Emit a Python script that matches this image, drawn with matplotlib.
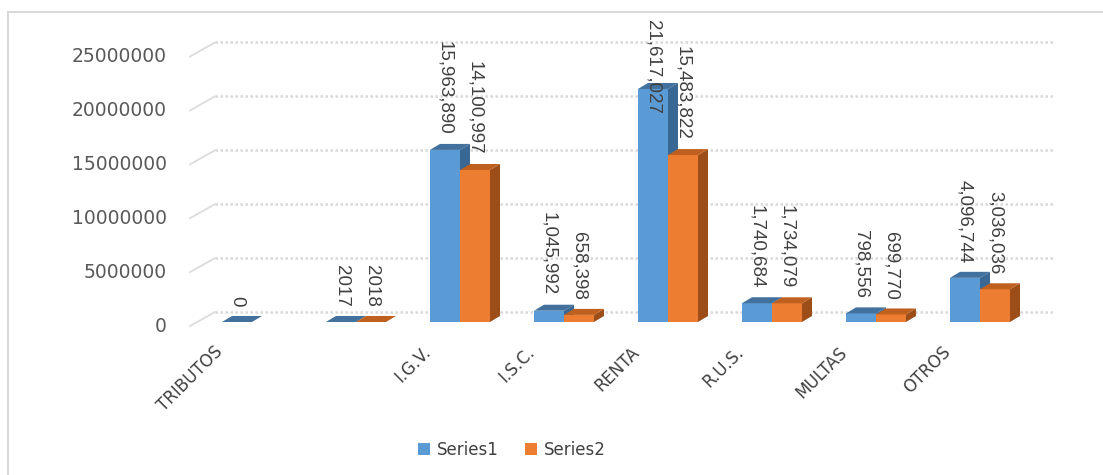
import numpy as np
import matplotlib.pyplot as plt
from matplotlib.patches import Polygon, Rectangle

# recaudacion por tributo, dos periodos
categories = ["TRIBUTOS", "", "I.G.V.", "I.S.C.", "RENTA", "R.U.S.", "MULTAS", "OTROS"]
series1 = [0, 2017, 15963890, 1045992, 21617027, 1740684, 798556, 4096744]
series2 = [np.nan, 2018, 14100997, 658398, 15483822, 1734079, 699770, 3036036]
yticks = [0, 5000000, 10000000, 15000000, 20000000, 25000000]
series_names = ["Series1", "Series2"]

W, H, DPI = 1103, 475, 100
fig = plt.figure(figsize=(W / DPI, H / DPI), dpi=DPI)

# axes laid out so one category = 104 px and 1M = 10.78 px
cat_px = 104.0
val_px = 10.78 / 1e6
left_px, right_px, first_cat_px = 100, 1100, 252
bottom_px = 153
ax = fig.add_axes([left_px / W, bottom_px / H, (right_px - left_px) / W, (H - bottom_px) / H])
ax.set_xlim((left_px - first_cat_px) / cat_px, (right_px - first_cat_px) / cat_px)
ax.set_ylim(0, (H - bottom_px) / val_px)
ax.axis("off")

px = 1 / cat_px        # one pixel in x data units
py = 1 / val_px        # one pixel in y data units

# back wall gridlines + the short slanted side-wall ticks
grid_x0, grid_x1 = (215 - first_cat_px) * px, (1055 - first_cat_px) * px
wall_x0 = (190 - first_cat_px) * px
for v in yticks:
    ax.plot([grid_x0, grid_x1], [v + 10 * py] * 2, color="#d9d9d9", lw=1.8,
            ls=(0, (1, 1)), zorder=1, clip_on=False)
    ax.plot([wall_x0, grid_x0], [v - 4 * py, v + 10 * py], color="#dcdcdc", lw=1.3,
            zorder=1, clip_on=False)
    ax.text(wall_x0 - 23 * px, v - 4 * py, f"{v}", ha="right", va="center",
            fontsize=13.5, color="#595959", family="DejaVu Sans")

w = 30 * px
dx, dy = 10 * px, 6 * py
z = [2]


def draw_bar(x0, h, front, top, side, label=None):
    z[0] += 1
    ax.bar(x0, h, width=w, align="edge", color=front, linewidth=0, zorder=z[0], label=label)
    z[0] += 1
    ax.add_patch(Polygon([(x0 + w, 0), (x0 + w + dx, dy), (x0 + w + dx, h + dy), (x0 + w, h)],
                         closed=True, facecolor=side, edgecolor="none", zorder=z[0]))
    z[0] += 1
    ax.add_patch(Polygon([(x0, h), (x0 + w, h), (x0 + w + dx, h + dy), (x0 + dx, h + dy)],
                         closed=True, facecolor=top, edgecolor="none", zorder=z[0]))


def fmt(v):
    return f"{v:,.0f}" if v >= 10000 else f"{v:.0f}"


labels = []
for i, (a, b) in enumerate(zip(series1, series2)):
    if not np.isnan(a):
        draw_bar(i - w, a, "#5b9bd5", "#41719c", "#3a6894",
                 label=series_names[0] if i == 2 else None)
        labels.append((i - w / 2, a))
    if not np.isnan(b):
        draw_bar(i, b, "#ed7d31", "#c0601f", "#9c4d18",
                 label=series_names[1] if i == 2 else None)
        labels.append((i + w / 2, b))

# value labels, pushed down when they would leave the chart area
top_limit = H - 20
fig.canvas.draw()
renderer = fig.canvas.get_renderer()
for x, v in labels:
    t = ax.annotate(fmt(v), xy=(x, v), xytext=(0, 15), textcoords="offset pixels",
                    rotation=-90, ha="center", va="bottom", fontsize=13.5,
                    color="#404040", family="Liberation Sans", zorder=50)
    bb = t.get_window_extent(renderer)
    if bb.y1 > top_limit:
        t.xyann = (0, 15 - (bb.y1 - top_limit))

for i, name in enumerate(categories):
    ax.annotate(name, xy=(i, 0), xytext=(-38, -21), textcoords="offset pixels",
                rotation=45, rotation_mode="anchor", ha="right", va="top",
                fontsize=12, color="#404040", family="DejaVu Sans")

fig.legend(loc="center", bbox_to_anchor=(512 / W, 25 / H), ncol=2, frameon=False,
           fontsize=12, handlelength=0.7, handleheight=0.7, handletextpad=0.4,
           columnspacing=1.6, labelcolor="#404040")

# outer chart border
fig.add_artist(Rectangle((8 / W, -0.1), 1.2, (H - 12) / H + 0.1, transform=fig.transFigure,
                         fill=False, edgecolor="#d9d9d9", lw=1.5))

fig.savefig("out.png", dpi=DPI, facecolor="white")
